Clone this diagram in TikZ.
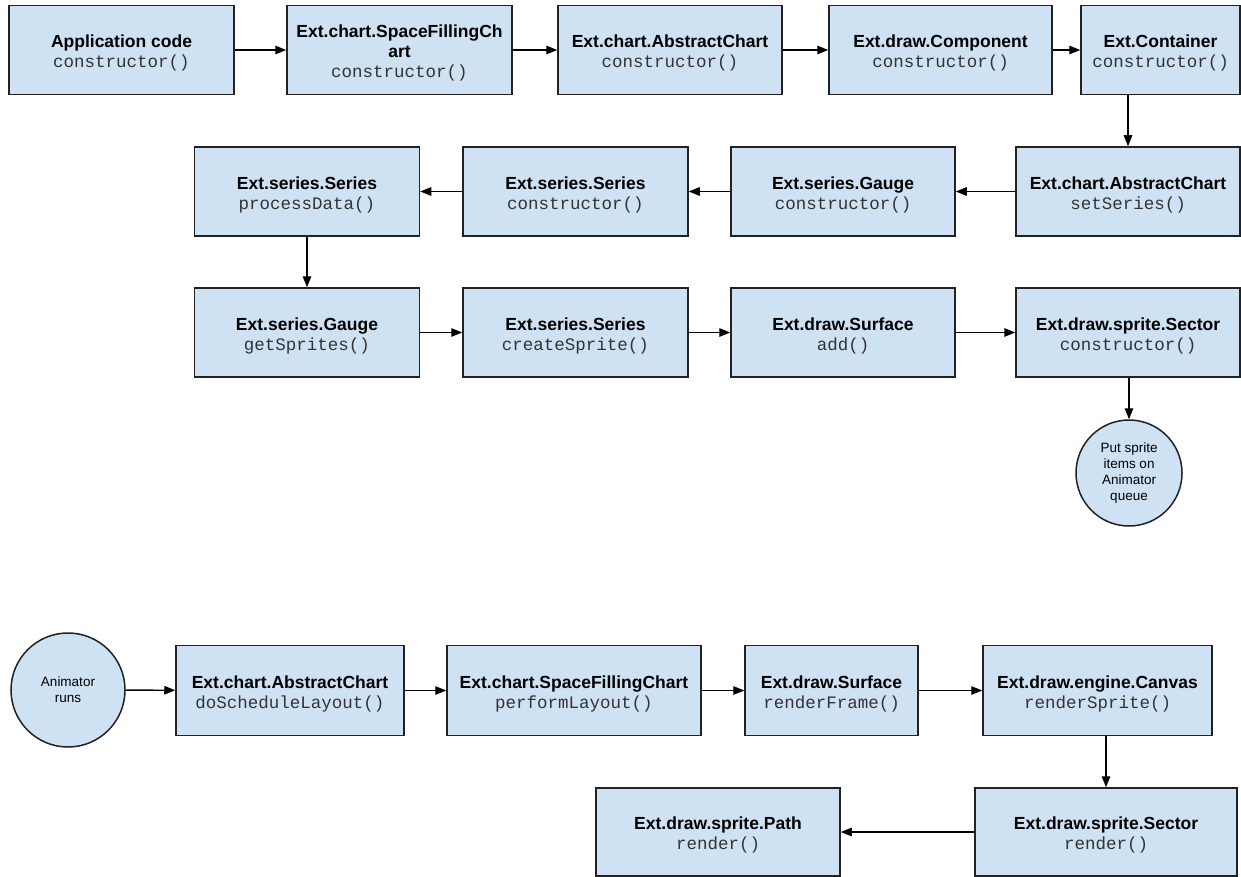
\documentclass[tikz,border=0pt]{standalone}
\usepackage{fontspec}
\setmainfont{Liberation Sans}
\setmonofont{Liberation Mono}
\usetikzlibrary{arrows.meta}
\definecolor{boxfill}{HTML}{CFE2F3}
\definecolor{boxline}{HTML}{222222}
\definecolor{monotext}{HTML}{333333}
\newcommand{\bx}[2]{\rule{0pt}{19pt}\textbf{#1}\\{\ttfamily\color{monotext}#2}}
\begin{document}
\begin{tikzpicture}[x=1pt,y=-1pt,
  stepbox/.style={draw=boxline, line width=1.5pt, fill=boxfill, rectangle,
    minimum width=225pt, minimum height=89pt, inner sep=0pt, align=center,
    font=\fontsize{17.5}{20}\selectfont},
  roundbox/.style={draw=boxline, line width=1.5pt, fill=boxfill, circle,
    inner sep=0pt, align=center, font=\fontsize{13.5}{16}\selectfont},
  arr/.style={draw=black, line width=1.4pt, -{Triangle[length=11pt,width=8.5pt]}}]
\useasboundingbox (0,0) rectangle (1241,877);
% Row 1
\node[stepbox] (app) at (121.5,50) {\bx{Application code}{constructor()}};
\node[stepbox] (sfc) at (399.5,50) {\rule{0pt}{19pt}\textbf{Ext.chart.SpaceFillingCh}\\\textbf{art}\\{\ttfamily\color{monotext}constructor()}};
\node[stepbox, minimum width=224pt] (ac1) at (670,50) {\bx{Ext.chart.AbstractChart}{constructor()}};
\node[stepbox, minimum width=223pt] (comp) at (940.5,50) {\bx{Ext.draw.Component}{constructor()}};
\node[stepbox, minimum width=159pt] (cont) at (1160.5,50) {\bx{Ext.Container}{constructor()}};
% Row 2
\node[stepbox] (pd) at (307,191.5) {\bx{Ext.series.Series}{processData()}};
\node[stepbox] (sc) at (575.5,191.5) {\bx{Ext.series.Series}{constructor()}};
\node[stepbox, minimum width=224pt] (gc) at (843,191.5) {\bx{Ext.series.Gauge}{constructor()}};
\node[stepbox, minimum width=224pt] (ss) at (1128,191.5) {\bx{Ext.chart.AbstractChart}{setSeries()}};
% Row 3
\node[stepbox] (gs) at (307,332.5) {\bx{Ext.series.Gauge}{getSprites()}};
\node[stepbox] (cs) at (575.5,332.5) {\bx{Ext.series.Series}{createSprite()}};
\node[stepbox, minimum width=224pt] (sa) at (843,332.5) {\bx{Ext.draw.Surface}{add()}};
\node[stepbox, minimum width=224pt] (sec) at (1128,332.5) {\bx{Ext.draw.sprite.Sector}{constructor()}};
\node[roundbox, minimum size=106pt] (q) at (1129,473) {Put sprite\\items on\\Animator\\queue};
% Row 4
\node[roundbox, minimum size=114pt] (anim) at (68,690) {Animator\\runs};
\node[stepbox, minimum width=228pt, minimum height=90pt] (dsl) at (290,690.5) {\bx{Ext.chart.AbstractChart}{doScheduleLayout()}};
\node[stepbox, minimum width=254pt, minimum height=90pt] (pl) at (574,690.5) {\bx{Ext.chart.SpaceFillingChart}{performLayout()}};
\node[stepbox, minimum width=173pt, minimum height=90pt] (rf) at (831.5,690.5) {\bx{Ext.draw.Surface}{renderFrame()}};
\node[stepbox, minimum width=229pt, minimum height=90pt] (rs) at (1097.5,690.5) {\bx{Ext.draw.engine.Canvas}{renderSprite()}};
% Row 5
\node[stepbox, minimum width=244pt, minimum height=88pt] (path) at (718,832) {\bx{Ext.draw.sprite.Path}{render()}};
\node[stepbox, minimum width=262pt, minimum height=88pt] (secr) at (1106,832) {\bx{Ext.draw.sprite.Sector}{render()}};
% Connectors
\draw[arr] (app) -- (sfc);
\draw[arr] (sfc) -- (ac1);
\draw[arr] (ac1) -- (comp);
\draw[arr] (comp) -- (cont);
\draw[arr] (cont.south -| ss.north) -- (ss.north);
\draw[arr] (ss) -- (gc);
\draw[arr] (gc) -- (sc);
\draw[arr] (sc) -- (pd);
\draw[arr] (pd) -- (gs);
\draw[arr] (gs) -- (cs);
\draw[arr] (cs) -- (sa);
\draw[arr] (sa) -- (sec);
\draw[arr] (sec.south -| q.north) -- (q.north);
\draw[arr] (anim) -- (dsl);
\draw[arr] (dsl) -- (pl);
\draw[arr] (pl) -- (rf);
\draw[arr] (rf) -- (rs);
\draw[arr] (rs.south -| secr.north) -- (secr.north);
\draw[arr] (secr) -- (path);
\end{tikzpicture}
\end{document}
